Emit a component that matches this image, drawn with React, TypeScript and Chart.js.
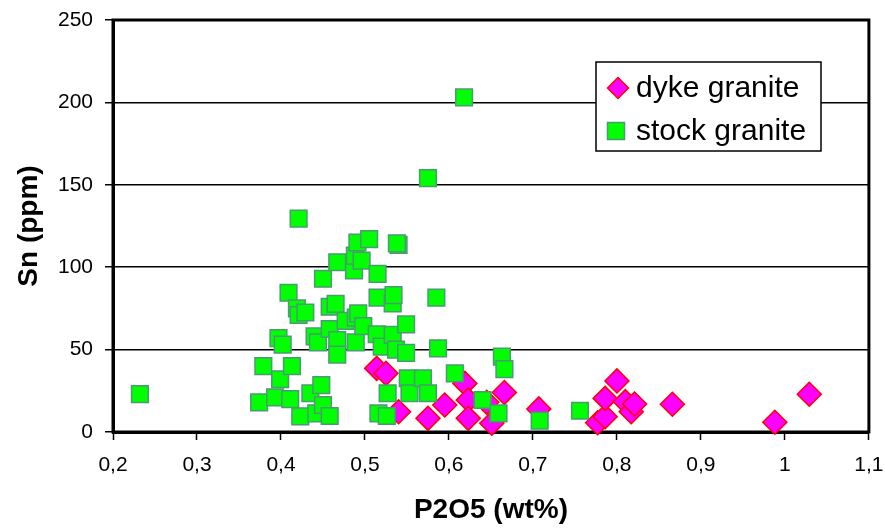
import React, { useEffect, useRef } from "react";
import { Chart, registerables } from "chart.js";

Chart.register(...registerables);

// ---- Data ----
const dykeX = [0.514, 0.525, 0.54, 0.575, 0.595, 0.619, 0.623, 0.623, 0.645, 0.651, 0.666, 0.707, 0.777, 0.786, 0.786, 0.8, 0.81, 0.817, 0.821, 0.866, 0.988, 1.029];
const dykeY = [38.6, 35.6, 12.3, 8.3, 16.4, 29.5, 19.4, 8.3, 18, 5.3, 24, 14, 5.6, 9.3, 20.4, 31, 18.4, 12.3, 17, 16.8, 5.9, 22.9];

const stockX = [0.232, 0.374, 0.379, 0.393, 0.397, 0.399, 0.402, 0.409, 0.411, 0.413, 0.419, 0.421, 0.421, 0.423, 0.429, 0.435, 0.44, 0.442, 0.444, 0.448, 0.45, 0.45, 0.458, 0.458, 0.458, 0.465, 0.467, 0.467, 0.467, 0.477, 0.487, 0.488, 0.489, 0.489, 0.491, 0.492, 0.496, 0.498, 0.505, 0.514, 0.515, 0.515, 0.516, 0.52, 0.526, 0.527, 0.533, 0.533, 0.534, 0.537, 0.54, 0.538, 0.549, 0.549, 0.551, 0.553, 0.569, 0.575, 0.575, 0.585, 0.587, 0.607, 0.618, 0.64, 0.659, 0.663, 0.666, 0.708, 0.756];
const stockY = [23, 18, 40, 21, 57, 32, 53, 84.5, 20, 40, 75, 71, 129.5, 9.5, 72.5, 23.5, 58, 11.3, 54.4, 28.5, 93, 16.4, 76, 62.5, 9.7, 77.7, 103, 55.8, 47, 67.4, 98, 107, 69.4, 54.4, 115, 72, 104, 64.3, 117, 59.3, 96, 81.5, 11.3, 51.8, 9.7, 23.5, 78, 58.9, 83, 50, 113.5, 114.5, 65.3, 48, 32.6, 23.5, 32.6, 23.5, 154, 81.5, 50.8, 35.6, 203, 19.4, 11.3, 45.7, 38.2, 6.9, 12.9];

const xTickLabels = ["0,2", "0,3", "0,4", "0,5", "0,6", "0,7", "0,8", "0,9", "1", "1,1"];
const yTickLabels = ["0", "50", "100", "150", "200", "250"];
const seriesNames = ["dyke granite", "stock granite"];

const FONT = "'Liberation Sans', Arial, sans-serif";
const MAGENTA = "#FF00FF";
const RED = "#FF0000";
const GREEN = "#00FF00";
const GREEN_BORDER = "#4a9a72";

const framePlugin = {
  id: "frame",
  beforeDatasetsDraw(chart: any) {
    const { ctx, chartArea } = chart;
    ctx.save();
    ctx.strokeStyle = "#000";
    ctx.lineWidth = 3;
    ctx.strokeRect(chartArea.left, chartArea.top, chartArea.right - chartArea.left, chartArea.bottom - chartArea.top);
    ctx.restore();
  },
};

const legendPlugin = {
  id: "boxLegend",
  afterDraw(chart: any) {
    const { ctx } = chart;
    const bx = 596, by = 62, bw = 225, bh = 89;
    ctx.save();
    ctx.fillStyle = "#fff";
    ctx.fillRect(bx, by, bw, bh);
    ctx.strokeStyle = "#000";
    ctx.lineWidth = 1.5;
    ctx.strokeRect(bx, by, bw, bh);
    // diamond
    const dx = 618, dy = 88, r = 10.5;
    ctx.beginPath();
    ctx.moveTo(dx - r, dy);
    ctx.lineTo(dx, dy - r);
    ctx.lineTo(dx + r, dy);
    ctx.lineTo(dx, dy + r);
    ctx.closePath();
    ctx.fillStyle = MAGENTA;
    ctx.fill();
    ctx.strokeStyle = RED;
    ctx.lineWidth = 1.5;
    ctx.stroke();
    // square
    const sx = 616, sy = 131, s = 17;
    ctx.fillStyle = GREEN;
    ctx.fillRect(sx - s / 2, sy - s / 2, s, s);
    ctx.strokeStyle = GREEN_BORDER;
    ctx.strokeRect(sx - s / 2, sy - s / 2, s, s);
    // text
    ctx.fillStyle = "#000";
    ctx.font = `30px ${FONT}`;
    ctx.textAlign = "left";
    ctx.textBaseline = "alphabetic";
    ctx.fillText(seriesNames[0], 636, 97);
    ctx.fillText(seriesNames[1], 636, 140);
    ctx.restore();
  },
};

export default function App() {
  const ref = useRef<HTMLCanvasElement | null>(null);

  useEffect(() => {
    if (!ref.current) return;
    const chart = new Chart(ref.current, {
      type: "scatter",
      data: {
        datasets: [
          {
            label: seriesNames[0],
            data: dykeX.map((x, i) => ({ x, y: dykeY[i] })),
            pointStyle: "rectRot",
            pointRadius: 12,
            pointBackgroundColor: MAGENTA,
            pointBorderColor: RED,
            pointBorderWidth: 1.5,
            order: 2,
            clip: false,
          },
          {
            label: seriesNames[1],
            data: stockX.map((x, i) => ({ x, y: stockY[i] })),
            pointStyle: "rect",
            pointRadius: 11.8,
            pointBackgroundColor: GREEN,
            pointBorderColor: GREEN_BORDER,
            pointBorderWidth: 1.5,
            order: 1,
            clip: false,
          },
        ] as any,
      },
      plugins: [framePlugin, legendPlugin],
      options: {
        responsive: false,
        animation: false,
        devicePixelRatio: 1,
        layout: { padding: { left: 0, top: 20, right: 16, bottom: 0 } },
        plugins: { legend: { display: false }, tooltip: { enabled: false } },
        scales: {
          x: {
            type: "linear",
            min: 0.2,
            max: 1.1,
            afterFit: (scale: any) => {
              scale.height = 97;
            },
            ticks: {
              stepSize: 0.1,
              padding: 1.5,
              color: "#000",
              font: { family: FONT, size: 21, lineHeight: 2.28 },
              maxRotation: 0,
              autoSkip: false,
              callback: (_v: any, i: number) => xTickLabels[i],
            },
            grid: {
              drawOnChartArea: false,
              drawTicks: true,
              tickLength: 8,
              tickColor: "#000",
              tickWidth: 1.5,
            },
            border: { display: true, color: "#000", width: 3 },
            title: {
              display: true,
              text: "P2O5 (wt%)",
              color: "#000",
              font: { family: FONT, size: 28, weight: "bold", lineHeight: 1 },
              padding: { top: 0, bottom: 5 },
            },
          },
          y: {
            type: "linear",
            min: 0,
            max: 250,
            afterFit: (scale: any) => {
              scale.width = 113;
            },
            ticks: {
              stepSize: 50,
              padding: 12,
              color: "#000",
              font: { family: FONT, size: 21, lineHeight: 0.6 },
              callback: (_v: any, i: number) => yTickLabels[i],
            },
            grid: {
              drawOnChartArea: true,
              color: "#000",
              lineWidth: 1.5,
              drawTicks: true,
              tickLength: 8,
              tickColor: "#000",
              tickWidth: 1.5,
            },
            border: { display: true, color: "#000", width: 3 },
            title: {
              display: true,
              text: "Sn (ppm)",
              color: "#000",
              font: { family: FONT, size: 28, weight: "bold", lineHeight: 1 },
              padding: { top: 15, bottom: 0 },
            },
          },
        },
      } as any,
    });
    return () => chart.destroy();
  }, []);

  return (
    <div style={{ position: "absolute", left: 0, top: 0, width: 885, height: 529, background: "#fff" }}>
      <canvas ref={ref} width={885} height={529} style={{ display: "block" }} />
    </div>
  );
}
